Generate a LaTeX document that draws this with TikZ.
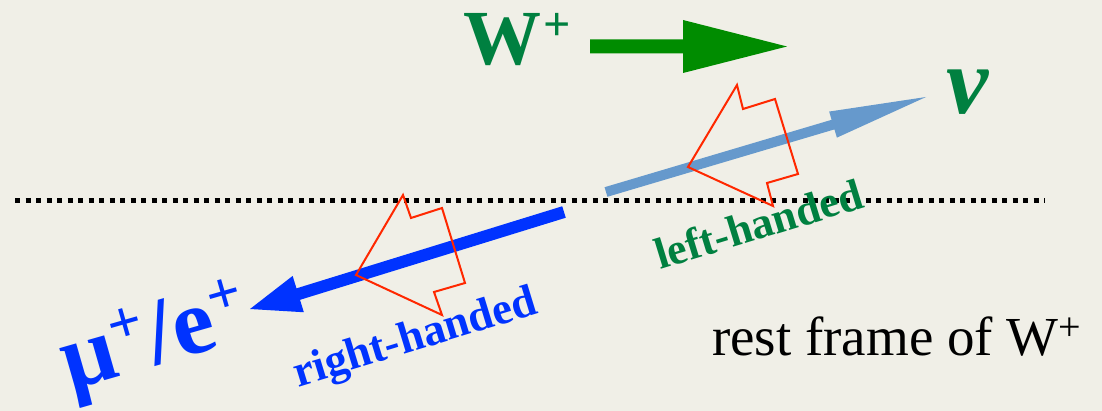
\documentclass[tikz,border=0pt]{standalone}
\usepackage{fontspec}
\setmainfont{Liberation Serif}
\usetikzlibrary{calc}
\definecolor{bgc}{RGB}{240,239,231}
\definecolor{wgreen}{RGB}{0,128,64}
\definecolor{agreen}{RGB}{0,140,0}
\definecolor{nublue}{RGB}{102,153,204}
\definecolor{mublue}{RGB}{0,51,255}
\definecolor{hred}{RGB}{255,40,0}
\newcommand\fatarrow[6]{% tail, tip, shaft half width, head length, head half width, colour (lengths in pt)
  \coordinate (tmpH) at ($(#2)!#4pt!(#1)$);
  \fill[#6] ($(#1)!#3pt!90:(#2)$) -- ($(tmpH)!#3pt!-90:(#1)$) -- ($(tmpH)!#5pt!-90:(#1)$) -- (#2)
    -- ($(tmpH)!#5pt!90:(#1)$) -- ($(tmpH)!#3pt!90:(#1)$) -- ($(#1)!#3pt!-90:(#2)$) -- cycle;}
\newcommand\supplus[2]{\raisebox{#1}{\fontsize{#2}{#2}\selectfont +}}
\tikzset{
  lbl/.style={inner sep=0pt, outer sep=0pt},
  helix/.style={draw=hred, line width=2pt, line join=miter},
  dotline/.style={line width=5pt, dash pattern=on 5pt off 5.5pt}
}
\begin{document}
\begin{tikzpicture}[x=1pt,y=-1pt]
\fill[bgc] (0,0) rectangle (1102,411);
\useasboundingbox (0,0) rectangle (1102,411);
% dotted horizon
\coordinate (dl) at (15,200.5);
\coordinate (dr) at (1045,200.5);
\draw[dotline] (dl) -- (dr);
% W+ label and arrow
\node[lbl, anchor=base west, text=wgreen] (W) at (463,65)
  {\fontsize{78}{78}\selectfont\bfseries W\kern2pt\supplus{24pt}{48}};
\coordinate (wa) at (590,46.5);
\coordinate (wb) at (787,46.5);
\fatarrow{wa}{wb}{7}{104}{26.5}{agreen}
% neutrino arrow
\coordinate (na) at (606,192);
\coordinate (nb) at (926,97);
\fatarrow{na}{nb}{5}{97}{13.6}{nublue}
\node[lbl, anchor=base west, text=wgreen] (nu) at (946,114)
  {\fontsize{95}{95}\selectfont\bfseries\itshape ν};
% muon arrow
\coordinate (ma) at (564,212);
\coordinate (mb) at (250,309);
\fatarrow{ma}{mb}{6}{50.5}{19}{mublue}
\node[lbl, anchor=base west, rotate=16, text=mublue] (mu) at (70,390)
  {\fontsize{94}{94}\selectfont\bfseries μ\kern1pt\supplus{30pt}{60}/e\kern1pt\supplus{30pt}{60}};
% helicity (hollow) arrows
\draw[helix] (688,167) -- (737,85) -- (743,109) -- (775,99) -- (798,174) -- (767,183) -- (773,206) -- cycle;
\draw[helix] (356,275) -- (403,195) -- (411,218) -- (442,208) -- (465,283) -- (434,292) -- (442,315) -- cycle;
% handedness labels
\node[lbl, anchor=base west, rotate=17, text=wgreen] (lh) at (660,270)
  {\fontsize{44}{44}\selectfont\bfseries left-handed};
\node[lbl, anchor=base west, rotate=17, text=mublue] (rh) at (298,387)
  {\fontsize{45}{45}\selectfont\bfseries right-handed};
% frame label
\node[lbl, anchor=base west] (rf) at (712,355)
  {\fontsize{55}{55}\selectfont rest frame of W\supplus{14pt}{40}};
\end{tikzpicture}
\end{document}
